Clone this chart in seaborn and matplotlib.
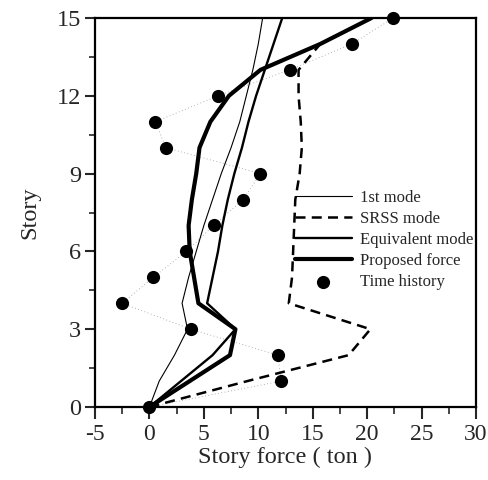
import matplotlib
matplotlib.use("Agg")
import matplotlib.pyplot as plt
from matplotlib.ticker import MultipleLocator
import seaborn as sns
import numpy as np

stories = list(range(16))
first_mode = [0, 0.9, 2.3, 3.5, 3.0, 3.6, 4.3, 5.0, 5.8, 6.6, 7.5, 8.3, 8.9, 9.5, 10.0, 10.4]
srss_mode = [0, 9.0, 18.3, 20.3, 12.8, 13.1, 13.2, 13.3, 13.4, 13.8, 14.0, 13.9, 13.7, 13.7, 15.7, 20.4]
equivalent_mode = [0, 2.9, 5.8, 7.9, 5.3, 5.8, 6.3, 6.7, 7.2, 7.8, 8.5, 9.1, 9.8, 10.6, 11.4, 12.2]
proposed_force = [0, 3.7, 7.4, 7.9, 4.5, 4.1, 3.7, 3.6, 3.9, 4.3, 4.6, 5.6, 7.3, 10.2, 15.7, 20.4]
time_history = [0, 12.1, 11.8, 3.8, -2.5, 0.35, 3.4, 5.9, 8.6, 10.2, 1.5, 0.55, 6.3, 12.9, 18.6, 22.4]

x_ticks = [-5, 0, 5, 10, 15, 20, 25, 30]
y_ticks = [0, 3, 6, 9, 12, 15]

sns.set_style("ticks")
plt.rcParams['font.family'] = ['Liberation Serif', 'DejaVu Serif']

fig = plt.figure(figsize=(4.88, 4.80), dpi=100)
ax = fig.add_axes([95/488, 1-407/480, (476-95)/488, (407-18)/480])

# faint dotted connection of time-history points
ax.plot(time_history, stories, color='0.6', lw=0.6, ls=(0, (1, 3)), zorder=1)

sns.lineplot(x=first_mode, y=stories, sort=False, estimator=None, ax=ax,
             color='black', lw=0.8, label='1st mode', zorder=3)
sns.lineplot(x=srss_mode, y=stories, sort=False, estimator=None, ax=ax,
             color='black', lw=1.8, ls=(0, (4, 2.5)), label='SRSS mode', zorder=3)
sns.lineplot(x=equivalent_mode, y=stories, sort=False, estimator=None, ax=ax,
             color='black', lw=1.7, label='Equivalent mode', zorder=3)
sns.lineplot(x=proposed_force, y=stories, sort=False, estimator=None, ax=ax,
             color='black', lw=3.0, label='Proposed force', zorder=4)
sns.scatterplot(x=time_history, y=stories, ax=ax, color='black', s=90,
                edgecolor='black', linewidth=0, label='Time history', zorder=5,
                clip_on=False)

ax.set_xlim(-5, 30)
ax.set_ylim(0, 15)
ax.set_xticks(x_ticks)
ax.set_xticklabels([str(t) for t in x_ticks])
ax.set_yticks(y_ticks)
ax.xaxis.set_minor_locator(MultipleLocator(2.5))
ax.yaxis.set_minor_locator(MultipleLocator(1.5))
ax.tick_params(axis='x', which='major', direction='out', length=8.5, width=1.5, labelsize=17, pad=4)
ax.tick_params(axis='x', which='minor', direction='out', length=5, width=1.2)
ax.tick_params(axis='y', which='major', direction='out', length=7, width=1.5, labelsize=17.5, pad=3)
ax.tick_params(axis='y', which='minor', direction='out', length=4.5, width=1.2)
for s in ax.spines.values():
    s.set_visible(True)
    s.set_linewidth(1.6)
    s.set_color('black')

ax.set_xlabel('Story force ( ton )', fontsize=17.5, labelpad=1)
ax.set_ylabel('Story', fontsize=17.5, labelpad=12)

leg = ax.legend(loc='upper left', bbox_to_anchor=(295/488, 1-190/480),
                bbox_transform=fig.transFigure, frameon=False, fontsize=12,
                handlelength=3.4, handletextpad=0.5, labelspacing=0.3,
                borderpad=0, borderaxespad=0)

fig.savefig('out.png', dpi=100)
